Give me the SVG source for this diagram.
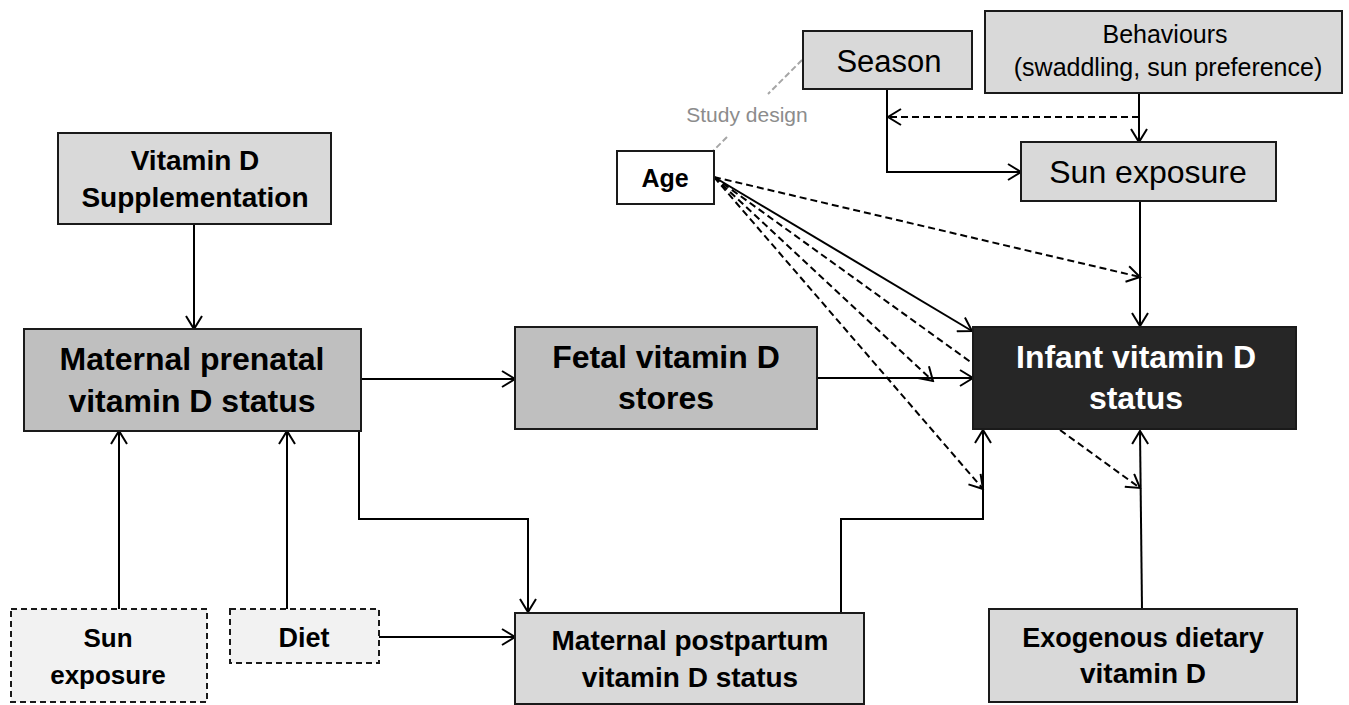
<svg xmlns="http://www.w3.org/2000/svg" width="1349" height="705" viewBox="0 0 1349 705">
<defs>
<style>
.box{stroke:#1a1a1a;stroke-width:2}
.l1{fill:#d9d9d9}
.l2{fill:#bfbfbf}
.dk{fill:#262626}
.wh{fill:#ffffff}
.dsh{fill:#f2f2f2;stroke-dasharray:6 4}
text{font-family:"Liberation Sans",Arial,sans-serif;text-anchor:middle;fill:#000}
.b{font-weight:bold}
.w{fill:#ffffff}
.c{fill:none;stroke:#000;stroke-width:2}
.cd{fill:none;stroke:#000;stroke-width:2;stroke-dasharray:7 4}
.sd{fill:none;stroke:#a6a6a6;stroke-width:2;stroke-dasharray:6 3}
</style>
<marker id="ar" markerUnits="userSpaceOnUse" viewBox="0 0 16 18" refX="14" refY="9" markerWidth="16" markerHeight="18" orient="auto">
<path d="M1,1 L14,9 L1,17" fill="none" stroke="#000" stroke-width="2" stroke-dasharray="none"/>
</marker>
</defs>
<rect width="1349" height="705" fill="#ffffff"/>
<g id="connectors">
<line class="c" x1="194" y1="224" x2="194" y2="329" marker-end="url(#ar)"/>
<line class="c" x1="119" y1="609" x2="119" y2="431" marker-end="url(#ar)"/>
<line class="c" x1="287" y1="609" x2="287" y2="431" marker-end="url(#ar)"/>
<line class="c" x1="361" y1="379" x2="515" y2="379" marker-end="url(#ar)"/>
<path class="c" d="M359,431 V519 H528 V612" marker-end="url(#ar)"/>
<line class="c" x1="379" y1="637" x2="515" y2="637" marker-end="url(#ar)"/>
<path class="c" d="M841,613 V519 H983 V430" marker-end="url(#ar)"/>
<line class="c" x1="817" y1="378" x2="973" y2="378" marker-end="url(#ar)"/>
<path class="c" d="M887,89 V172 H1021" marker-end="url(#ar)"/>
<line class="c" x1="1139" y1="93" x2="1139" y2="142" marker-end="url(#ar)"/>
<line class="cd" x1="1139" y1="117" x2="888" y2="117" marker-end="url(#ar)"/>
<line class="c" x1="1140" y1="201" x2="1140" y2="326" marker-end="url(#ar)"/>
<line class="cd" x1="714" y1="177" x2="1140" y2="277" marker-end="url(#ar)"/>
<line class="c" x1="714" y1="177" x2="972" y2="331" marker-end="url(#ar)"/>
<line class="cd" x1="714" y1="177" x2="972" y2="363"/>
<line class="cd" x1="714" y1="177" x2="933" y2="381" marker-end="url(#ar)"/>
<line class="cd" x1="714" y1="177" x2="983" y2="489" marker-end="url(#ar)"/>
<line class="cd" x1="1060" y1="430" x2="1140" y2="488" marker-end="url(#ar)"/>
<line class="c" x1="1142" y1="609" x2="1140" y2="431" marker-end="url(#ar)"/>
<line class="sd" x1="802" y1="60" x2="768" y2="94"/>
<line class="sd" x1="727" y1="137" x2="713" y2="151"/>
</g>
<g id="study-design">
<text x="747" y="122" font-size="21" style="fill:#8c8c8c">Study design</text>
</g>
<g id="season">
<rect class="box l1" x="803" y="31" width="169" height="58"/>
<text x="889" y="72" font-size="31">Season</text>
</g>
<g id="behaviours">
<rect class="box l1" x="985" y="11" width="357" height="82"/>
<text x="1165" y="43" font-size="25">Behaviours</text>
<text x="1168" y="76" font-size="25">(swaddling, sun preference)</text>
</g>
<g id="age">
<rect class="box wh" x="617" y="151" width="97" height="53"/>
<text class="b" x="665" y="187" font-size="25">Age</text>
</g>
<g id="sun-exposure-infant">
<rect class="box l1" x="1021" y="142" width="255" height="59"/>
<text x="1148" y="183" font-size="32">Sun exposure</text>
</g>
<g id="vitd-supplementation">
<rect class="box l1" x="58" y="133" width="273" height="91"/>
<text class="b" x="195" y="170" font-size="28">Vitamin D</text>
<text class="b" x="195" y="207" font-size="28">Supplementation</text>
</g>
<g id="maternal-prenatal">
<rect class="box l2" x="24" y="329" width="337" height="102"/>
<text class="b" x="192" y="370" font-size="32">Maternal prenatal</text>
<text class="b" x="192" y="412" font-size="32">vitamin D status</text>
</g>
<g id="fetal-stores">
<rect class="box l2" x="515" y="327" width="302" height="102"/>
<text class="b" x="666" y="368" font-size="32">Fetal vitamin D</text>
<text class="b" x="666" y="409" font-size="32">stores</text>
</g>
<g id="infant-status">
<rect class="box dk" x="973" y="327" width="323" height="102"/>
<text class="b w" x="1136" y="368" font-size="32">Infant vitamin D</text>
<text class="b w" x="1136" y="409" font-size="32">status</text>
</g>
<g id="sun-exposure-maternal">
<rect class="box dsh" x="11" y="609" width="196" height="93"/>
<text class="b" x="108" y="647" font-size="26">Sun</text>
<text class="b" x="108" y="684" font-size="26">exposure</text>
</g>
<g id="diet">
<rect class="box dsh" x="230" y="609" width="149" height="54"/>
<text class="b" x="304" y="647" font-size="27">Diet</text>
</g>
<g id="maternal-postpartum">
<rect class="box l1" x="515" y="613" width="349" height="91"/>
<text class="b" x="690" y="650" font-size="28">Maternal postpartum</text>
<text class="b" x="690" y="687" font-size="28">vitamin D status</text>
</g>
<g id="exogenous-dietary">
<rect class="box l1" x="989" y="609" width="308" height="93"/>
<text class="b" x="1143" y="647" font-size="27">Exogenous dietary</text>
<text class="b" x="1143" y="683" font-size="28">vitamin D</text>
</g>
</svg>
